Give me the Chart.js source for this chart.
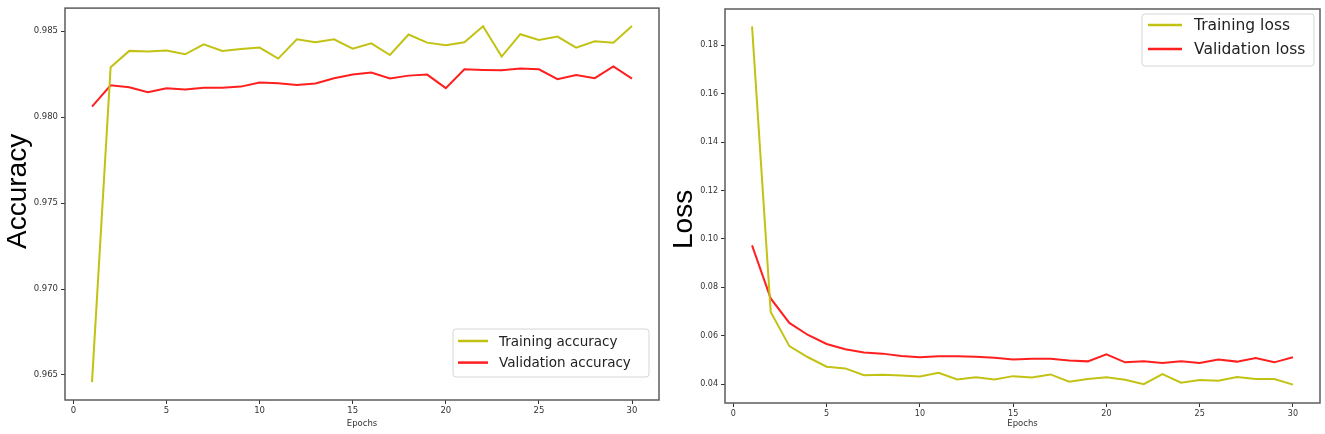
<!DOCTYPE html>
<html lang="en">
<head>
  <meta charset="UTF-8" />
  <title>Accuracy and Loss per Epoch</title>
  <script src="https://cdn.jsdelivr.net/npm/chart.js"></script>
  <style>
    body {
      margin: 0;
      background: #ffffff;
      width: 1325px;
      height: 434px;
      overflow: hidden;
      position: relative;
    }
    .panel {
      position: absolute;
      top: 0;
      height: 434px;
    }
    #accPanel { left: 0; width: 662px; }
    #lossPanel { left: 662px; width: 663px; }
  </style>
</head>
<body>
  <div class="panel" id="accPanel"><canvas id="accChart"></canvas></div>
  <div class="panel" id="lossPanel"><canvas id="lossChart"></canvas></div>

  <script>
    const epochs = [1, 2, 3, 4, 5, 6, 7, 8, 9, 10, 11, 12, 13, 14, 15,
                    16, 17, 18, 19, 20, 21, 22, 23, 24, 25, 26, 27, 28, 29, 30];

    const trainAcc = [0.96458, 0.98291, 0.98386, 0.98382, 0.98388, 0.98366, 0.98424, 0.98386, 0.98397, 0.98405,
                      0.98341, 0.98453, 0.98436, 0.98453, 0.98399, 0.98430, 0.98362, 0.98481, 0.98434, 0.98419,
                      0.98436, 0.98529, 0.98353, 0.98483, 0.98450, 0.98469, 0.98405, 0.98442, 0.98434, 0.98531];
    const valAcc = [0.98062, 0.98186, 0.98174, 0.98145, 0.98169, 0.98161, 0.98172, 0.98172, 0.98178, 0.98202,
                    0.98198, 0.98188, 0.98196, 0.98227, 0.98248, 0.98260, 0.98225, 0.98242, 0.98248, 0.98169,
                    0.98279, 0.98275, 0.98273, 0.98283, 0.98279, 0.98221, 0.98246, 0.98227, 0.98295, 0.98225];

    const trainLoss = [0.1878, 0.0698, 0.0557, 0.0511, 0.0472, 0.0465, 0.0437, 0.0439, 0.0436, 0.0432,
                       0.0447, 0.0419, 0.0428, 0.0419, 0.0433, 0.0427, 0.0440, 0.0410, 0.0421, 0.0428,
                       0.0418, 0.0400, 0.0441, 0.0406, 0.0417, 0.0414, 0.0429, 0.0421, 0.0421, 0.0398];
    const valLoss = [0.0973, 0.0754, 0.0653, 0.0603, 0.0566, 0.0544, 0.0531, 0.0526, 0.0516, 0.0511,
                     0.0515, 0.0515, 0.0513, 0.0509, 0.0502, 0.0505, 0.0505, 0.0498, 0.0494, 0.0523,
                     0.0490, 0.0494, 0.0487, 0.0495, 0.0487, 0.0502, 0.0493, 0.0508, 0.0490, 0.0511];

    const accTicks = [0.965, 0.970, 0.975, 0.980, 0.985];
    const lossTicks = [0.04, 0.06, 0.08, 0.10, 0.12, 0.14, 0.16, 0.18];
    const epochTicks = [0, 5, 10, 15, 20, 25, 30];

    const trainColor = '#c2c214';
    const valColor = '#ff1f1f';
    const tickFont = 'DejaVu Sans';

    const points = ys => ys.map((y, i) => ({ x: epochs[i], y: y }));

    // frame round the plot area plus the big rotated y label
    const framePlugin = {
      id: 'frame',
      afterDraw(chart, args, opts) {
        const { ctx, chartArea: a } = chart;
        ctx.save();
        ctx.strokeStyle = '#5c5c5c';
        ctx.lineWidth = 1.5;
        ctx.strokeRect(a.left, a.top, a.right - a.left, a.bottom - a.top);
        ctx.translate(opts.labelX, opts.labelY);
        ctx.rotate(-Math.PI / 2);
        ctx.fillStyle = '#000';
        ctx.font = opts.labelSize + 'px "Liberation Sans", Arial, sans-serif';
        ctx.textAlign = 'left';
        ctx.textBaseline = 'alphabetic';
        ctx.fillText(opts.label, 0, 0);
        ctx.restore();
      }
    };

    // matplotlib-like legend box inside the plot area
    const boxLegend = {
      id: 'boxLegend',
      afterDraw(chart, args, o) {
        const { ctx, chartArea: a } = chart;
        const x = a.right - o.right - o.w;
        const y = o.top != null ? a.top + o.top : a.bottom - o.bottom - o.h;
        ctx.save();
        ctx.fillStyle = 'rgba(255,255,255,0.85)';
        ctx.strokeStyle = '#d6d6d6';
        ctx.lineWidth = 1;
        ctx.beginPath();
        ctx.roundRect(x, y, o.w, o.h, 3);
        ctx.fill();
        ctx.stroke();
        ctx.font = o.size + 'px "DejaVu Sans", sans-serif';
        ctx.textBaseline = 'middle';
        chart.data.datasets.forEach((ds, i) => {
          const ry = y + o.rowTop + i * o.rowGap;
          ctx.strokeStyle = ds.borderColor;
          ctx.lineWidth = 2.5;
          ctx.beginPath();
          ctx.moveTo(x + o.line0, ry);
          ctx.lineTo(x + o.line1, ry);
          ctx.stroke();
          ctx.fillStyle = '#222';
          ctx.fillText(ds.label, x + o.textX, ry + 1);
        });
        ctx.restore();
      }
    };

    function makeChart(id, cfg) {
      return new Chart(document.getElementById(id), {
        type: 'line',
        data: {
          datasets: [
            { label: cfg.names[0], data: points(cfg.train), borderColor: trainColor,
              borderWidth: 2, pointRadius: 0, tension: 0, fill: false },
            { label: cfg.names[1], data: points(cfg.val), borderColor: valColor,
              borderWidth: 2, pointRadius: 0, tension: 0, fill: false }
          ]
        },
        options: {
          responsive: true,
          maintainAspectRatio: false,
          animation: false,
          layout: { padding: { left: 0, top: cfg.padTop, right: cfg.padRight, bottom: 0 } },
          plugins: {
            legend: { display: false },
            tooltip: { enabled: false },
            frame: cfg.frame,
            boxLegend: cfg.legend
          },
          scales: {
            x: {
              type: 'linear',
              min: -0.45,
              max: 31.45,
              afterFit: s => { s.height = cfg.xHeight; },
              afterBuildTicks: s => { s.ticks = epochTicks.map(v => ({ value: v })); },
              ticks: { includeBounds: false, padding: 2, color: '#333',
                       font: { family: tickFont, size: cfg.tickSize } },
              grid: { drawOnChartArea: false, drawTicks: true, tickLength: 4, color: '#333' },
              border: { display: false },
              title: { display: true, text: 'Epochs', color: '#333',
                       font: { family: tickFont, size: 8.5 }, padding: { top: 0, bottom: 5 } }
            },
            y: {
              min: cfg.yMin,
              max: cfg.yMax,
              afterFit: s => { s.width = cfg.yWidth; },
              afterBuildTicks: s => { s.ticks = cfg.yTicks.map(v => ({ value: v })); },
              ticks: { includeBounds: false, padding: 3, color: '#333',
                       font: { family: tickFont, size: cfg.tickSize },
                       callback: v => v.toFixed(cfg.digits) },
              grid: { drawOnChartArea: false, drawTicks: true, tickLength: 4, color: '#333' },
              border: { display: false }
            }
          }
        },
        plugins: [framePlugin, boxLegend]
      });
    }

    makeChart('accChart', {
      names: ['Training accuracy', 'Validation accuracy'],
      train: trainAcc, val: valAcc,
      yMin: 0.96354, yMax: 0.98635, yTicks: accTicks, digits: 3,
      padTop: 8, padRight: 3, yWidth: 65, xHeight: 34, tickSize: 8.5,
      frame: { label: 'Accuracy', labelX: 26, labelY: 249, labelSize: 28 },
      legend: { right: 10, bottom: 23, w: 196, h: 48, rowTop: 12, rowGap: 21.6,
                line0: 5, line1: 35, textX: 46, size: 13.5 }
    });

    makeChart('lossChart', {
      names: ['Training loss', 'Validation loss'],
      train: trainLoss, val: valLoss,
      yMin: 0.0322, yMax: 0.1950, yTicks: lossTicks, digits: 2,
      padTop: 9, padRight: 5, yWidth: 63, xHeight: 31, tickSize: 8,
      frame: { label: 'Loss', labelX: 30, labelY: 249, labelSize: 28 },
      legend: { right: 6, top: 5, w: 172, h: 52, rowTop: 11, rowGap: 24,
                line0: 6, line1: 40, textX: 52, size: 15.5 }
    });
  </script>
</body>
</html>
